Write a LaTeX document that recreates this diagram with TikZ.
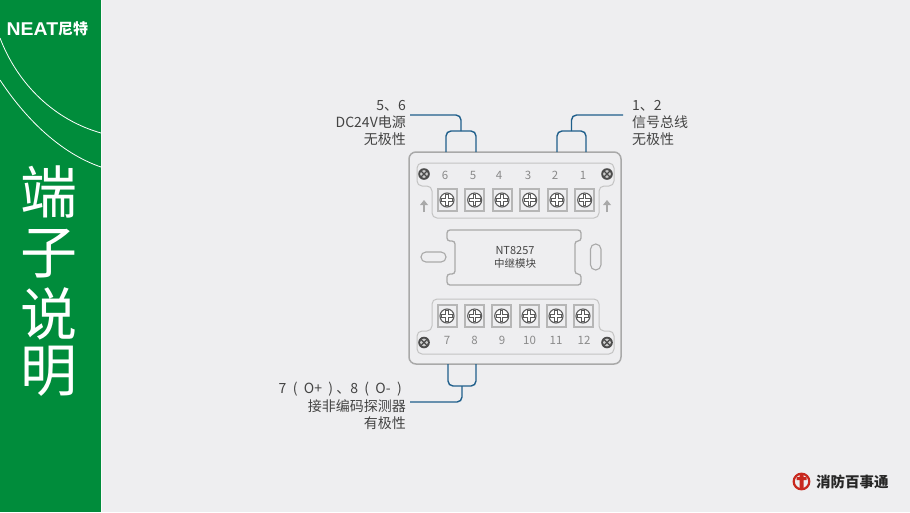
\documentclass[tikz,border=0pt]{standalone}
\usepackage{fontspec}
\setmainfont{Noto Sans CJK SC}
\newfontfamily\latinlogo{Liberation Sans}
\newcommand{\gp}{\hspace{3.2pt}}
\definecolor{bgc}{HTML}{EEEEF0}
\definecolor{greenc}{HTML}{008C3B}
\definecolor{wirec}{HTML}{1F5F8B}
\definecolor{linec}{HTML}{A9A9A9}
\definecolor{numc}{HTML}{8A8A8A}
\definecolor{txtc}{HTML}{444444}
\definecolor{redc}{HTML}{C8281E}
\definecolor{screwc}{HTML}{5A5A5A}
\tikzset{
  caselin/.style={draw=linec,line width=1.5pt,rounded corners=7pt},
  panel/.style={draw=linec!70,line width=1pt,rounded corners=5pt},
  wire/.style={draw=wirec,line width=1.4pt,rounded corners=5pt},
  lab/.style={inner sep=0pt,text=txtc,font=\fontsize{14}{15}\selectfont,anchor=base east},
  labr/.style={inner sep=0pt,text=txtc,font=\fontsize{14}{15}\selectfont,anchor=base west},
  num/.style={inner sep=0pt,text=numc,font=\fontsize{11.5}{12}\selectfont},
  side/.style={inner sep=0pt,text=white,font=\fontsize{57}{60}\selectfont},
  term/.pic={
    \draw[draw=linec!85,fill=bgc,line width=2pt] (-9.5,-11) rectangle (9.5,11);
    \filldraw[draw=screwc,fill=white,line width=1.1pt] (0,0) circle (7);
    \fill[fill=screwc] (-5.8,-1.7) rectangle (5.8,1.7);
    \fill[fill=screwc] (-1.7,-5.8) rectangle (1.7,5.8);
    \fill[fill=white] (-5.1,-.7) rectangle (5.1,.7);
    \fill[fill=white] (-.7,-5.1) rectangle (.7,5.1);
  },
  screw/.pic={
    \fill[black!70] (0,0) circle (5.8);
    \fill[white!80!black] (0,0) circle (3.9);
    \draw[black!70,line width=1.3pt] (-3,-3)--(3,3) (-3,3)--(3,-3);
  },
  uparrow/.pic={
    \draw[draw=linec,line width=1.6pt] (0,6)--(0,-2);
    \fill[linec] (-4,-1)--(0,-6)--(4,-1)--cycle;
  }
}
\begin{document}
\begin{tikzpicture}[x=1pt,y=-1pt]
\useasboundingbox (0,0) rectangle (910,512);
\fill[bgc] (0,0) rectangle (910,512);
\fill[greenc] (0,0) rectangle (101,512);
\fill[white!70!bgc] (101,0) rectangle (102,512);
% curves
\draw[white,line width=.8pt] (0,38) .. controls (18,85) and (55,120) .. (101,133);
\draw[white,line width=.8pt] (0,80) .. controls (25,118) and (60,153) .. (101,167);
% logo
\node (logoen) [inner sep=0pt,text=white,anchor=west,xscale=1.05,transform shape,font=\latinlogo\fontsize{18.5}{19}\selectfont\bfseries] at (6.5,29) {NEAT};
\node (logocn) [inner sep=0pt,text=white,anchor=west,font=\fontsize{15}{16}\selectfont\bfseries] at (58,28.5) {尼特};
% side title
\node (s1) [side] at (49,192) {端};
\node (s2) [side] at (49,254) {子};
\node (s3) [side] at (49,314) {说};
\node (s4) [side] at (49,371) {明};
% case
\draw[caselin] (409,152) rectangle (621,364);
% top panel
\draw[panel] (417,163) -- (614,163) -- (614,186) -- (599,186) -- (599,218) -- (432,218) -- (432,186) -- (417,186) -- cycle;
% bottom panel
\draw[panel] (432,299) -- (599,299) -- (599,331) -- (614,331) -- (614,354) -- (417,354) -- (417,331) -- (432,331) -- cycle;
% centre plate
\draw[draw=linec,line width=1.3pt,rounded corners=3pt] (447,230) -- (581,230) -- (581,241) -- (575,241) -- (575,274) -- (581,274) -- (581,285) -- (447,285) -- (447,274) -- (455,274) -- (455,241) -- (447,241) -- cycle;
\draw[draw=linec,line width=1.1pt,rounded corners=4.9pt] (421,252) rectangle (446,262);
\draw[draw=linec,line width=1.1pt,rounded corners=5.2pt] (590.5,244) rectangle (601,270);
\node (pm) [inner sep=0pt,text=txtc,font=\fontsize{11}{12}\selectfont] at (515,250.5) {NT8257};
\node (pn) [inner sep=0pt,text=txtc,font=\fontsize{10.5}{12}\selectfont] at (515,263.5) {中继模块};
% terminals
\foreach \tx in {447,474.7,502,529.7,557,584.7} \pic at (\tx,200) {term};
\foreach \tx in {447,474.7,501.7,529,556,583} \pic at (\tx,316) {term};
\pic at (424,174) {screw};
\pic at (607,174) {screw};
\pic at (424,342.5) {screw};
\pic at (607,342.5) {screw};
\pic at (424,206) {uparrow};
\pic at (607,206) {uparrow};
% numbers
\node (t6) [num] at (445,175) {6};
\node (t5) [num] at (473,175) {5};
\node (t4) [num] at (499,175) {4};
\node (t3) [num] at (528,175) {3};
\node (t2) [num] at (555,175) {2};
\node (t1) [num] at (583,175) {1};
\node (b7) [num] at (447,340) {7};
\node (b8) [num] at (474.5,340) {8};
\node (b9) [num] at (502,340) {9};
\node (b10) [num] at (529.5,340) {10};
\node (b11) [num] at (556,340) {11};
\node (b12) [num] at (584,340) {12};
% wires
\coordinate (w1a) at (410,115);
\coordinate (w1b) at (461,115);
\coordinate (w1c) at (461,131);
\coordinate (w1l) at (446,152);
\coordinate (w1r) at (476,152);
\draw[wire] (w1a) -- (w1b) -- (w1c);
\draw[wire] (w1l) -- (w1l |- w1c) -- (w1r |- w1c) -- (w1r);
\coordinate (w2a) at (623,115);
\coordinate (w2b) at (571.5,115);
\coordinate (w2c) at (571.5,131);
\coordinate (w2l) at (557,152);
\coordinate (w2r) at (586,152);
\draw[wire] (w2a) -- (w2b) -- (w2c);
\draw[wire] (w2l) -- (w2l |- w2c) -- (w2r |- w2c) -- (w2r);
\coordinate (w3a) at (410,402);
\coordinate (w3b) at (462,402);
\coordinate (w3c) at (462,386);
\coordinate (w3l) at (448,364);
\coordinate (w3r) at (476,364);
\draw[wire] (w3a) -- (w3b) -- (w3c);
\draw[wire] (w3l) -- (w3l |- w3c) -- (w3r |- w3c) -- (w3r);
% labels
\node (l1) [lab] at (406,110.7) {5、6};
\node (l2) [lab] at (406,127.7) {DC24V电源};
\node (l3) [lab] at (406,144.7) {无极性};
\node (r1) [labr] at (632,110.7) {1、2};
\node (r2) [labr] at (632,127.7) {信号总线};
\node (r3) [labr] at (632,144.7) {无极性};
\node (d1) [lab] at (402,393.5) {7\gp{} (\gp{} O+\gp{} )\gp{}、8\gp{} (\gp{} O-\gp{} )};
\node (d2) [lab] at (406,411.3) {接非编码探测器};
\node (d3) [lab] at (406,428.5) {有极性};
% bottom logo
\draw[redc,line width=2.2pt] (801.5,481.5) circle (7.8);
\fill[redc] (796.5,477) rectangle (806.5,480) (799.5,475) rectangle (803.5,489);
\node (brand) [inner sep=0pt,text=black!85,anchor=west,font=\fontsize{14.5}{15}\selectfont\bfseries] at (816,482) {消防百事通};
\end{tikzpicture}
\end{document}
